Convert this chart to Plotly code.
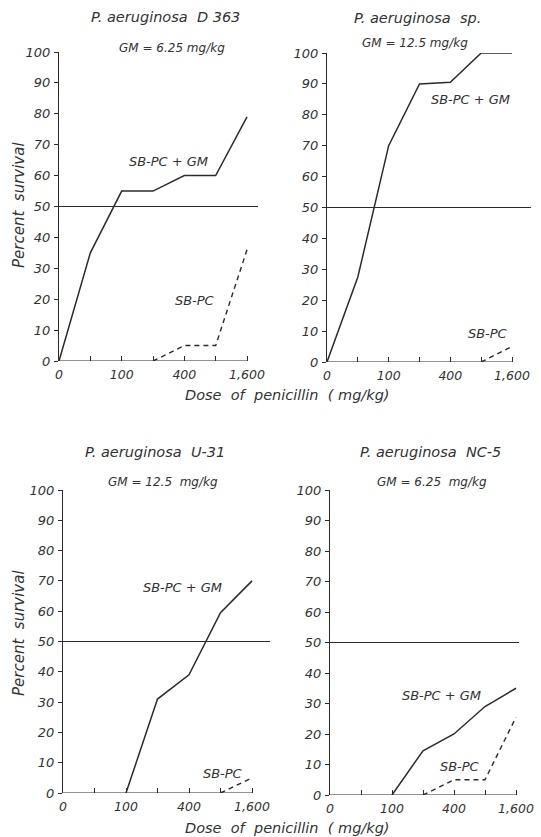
import plotly.graph_objects as go

W, H = 541, 837

# ---- data ----
doses = [0, 50, 100, 200, 400, 800, 1600]
dose_ticktext = ["0", "", "100", "", "400", "", "1,600"]
survival_ticks = [0, 10, 20, 30, 40, 50, 60, 70, 80, 90, 100]

panel_titles = ["P. aeruginosa  D 363", "P. aeruginosa  sp.",
                "P. aeruginosa  U-31", "P. aeruginosa  NC-5"]
gm_labels = ["GM = 6.25 mg/kg", "GM = 12.5 mg/kg",
             "GM = 12.5  mg/kg", "GM = 6.25  mg/kg"]

combo_d363 = [0, 35, 55, 55, 60, 60, 79]
sbpc_d363 = [None, None, None, 0, 5, 5, 36]
combo_sp = [0, 27.5, 70, 90, 90.5, 100, 100]
sbpc_sp = [None, None, None, None, None, 0, 5]
combo_u31 = [None, None, 0, 31, 39, 59.5, 70]
sbpc_u31 = [None, None, None, None, None, 0, 5]
combo_nc5 = [None, None, 0, 14.5, 20, 29, 35]
sbpc_nc5 = [None, None, None, 0, 5, 5, 25.5]

combo = [combo_d363, combo_sp, combo_u31, combo_nc5]
sbpc = [sbpc_d363, sbpc_sp, sbpc_u31, sbpc_nc5]

# ---- layout geometry (pixels) ----
# (x of dose index 0, x of dose index 6, right end of 50% line, y of 0%, y of 100%)
geom = [
    (59, 247, 258, 361, 52),
    (327, 512, 531, 362, 53),
    (63, 252, 270, 793, 490),
    (330, 516, 519, 795, 490),
]
title_pos = [(165, 17), (417, 18), (155, 452), (430, 452)]
gm_pos = [(172, 48), (415, 43), (163, 482), (432, 482)]
combo_lbl = [(3.48, 64.4), (4.64, 85.1), (3.78, 67.7), (3.61, 32.5)]
sbpc_lbl = [(4.34, 19.7), (5.22, 9.1), (5.05, 6.6), (4.19, 9.2)]

LINE = "#2b2b2b"
TXT = "#333333"
FONT = "DejaVu Sans"

fig = go.Figure()
xi = list(range(len(doses)))

annotations = []
shapes = []
layout = {}


def ann(text, x, y, xref="paper", yref="paper", size=12.5, angle=0):
    if xref == "paper":
        x = x / W
        y = 1 - y / H
    return dict(text="<i>" + text + "</i>", xref=xref, yref=yref, x=x, y=y,
                showarrow=False, textangle=angle, xanchor="center",
                yanchor="middle", font=dict(family=FONT, size=size, color=TXT))


for k in range(4):
    x0, x6, xend, y0, y100 = geom[k]
    step = (x6 - x0) / 6.0
    xmax = (xend - x0) / step
    sfx = "" if k == 0 else str(k + 1)
    xa, ya = "x" + sfx, "y" + sfx
    layout["xaxis" + sfx] = dict(
        domain=[x0 / W, xend / W], range=[0, xmax], anchor=ya,
        tickvals=xi, ticktext=dose_ticktext, ticks="inside", ticklen=5,
        tickcolor=LINE, showline=False, showgrid=False, zeroline=False,
        tickfont=dict(family=FONT, size=12.5, color=TXT, style="italic"),
        fixedrange=True, automargin=False, ticklabelstandoff=4,
    )
    layout["yaxis" + sfx] = dict(
        domain=[1 - y0 / H, 1 - y100 / H], range=[0, 100], anchor=xa,
        tickvals=survival_ticks, ticks="outside", ticklen=4, tickcolor=LINE,
        showline=True, linecolor=LINE, linewidth=1.2, showgrid=False,
        zeroline=False, ticklabelstandoff=1, automargin=False,
        tickfont=dict(family=FONT, size=13, color=TXT, style="italic"),
        fixedrange=True,
    )
    # x axis line (only to the last dose)
    shapes.append(dict(type="line", xref=xa, yref=ya, x0=0, x1=6, y0=0, y1=0,
                       line=dict(color=LINE, width=1.2)))
    # 50% reference line
    shapes.append(dict(type="line", xref=xa + " domain", yref=ya, x0=0, x1=1,
                       y0=50, y1=50, line=dict(color=LINE, width=1.1)))

    fig.add_trace(go.Scatter(x=xi, y=combo[k], xaxis=xa, yaxis=ya, mode="lines",
                             line=dict(color=LINE, width=1.5), cliponaxis=False,
                             showlegend=False, connectgaps=False))
    fig.add_trace(go.Scatter(x=xi, y=sbpc[k], xaxis=xa, yaxis=ya, mode="lines",
                             line=dict(color=LINE, width=1.4, dash="5px,4px"),
                             cliponaxis=False, showlegend=False))

    annotations.append(ann(panel_titles[k], *title_pos[k], size=14.5))
    annotations.append(ann(gm_labels[k], *gm_pos[k], size=12))
    annotations.append(ann("SB-PC + GM", combo_lbl[k][0], combo_lbl[k][1],
                           xref=xa, yref=ya, size=13))
    annotations.append(ann("SB-PC", sbpc_lbl[k][0], sbpc_lbl[k][1],
                           xref=xa, yref=ya, size=13))

# axis titles
for (px, py) in [(19, 205), (19, 633)]:
    annotations.append(ann("Percent  survival", px, py, size=15, angle=-90))
for (px, py) in [(287, 395), (287, 828)]:
    annotations.append(ann("Dose  of  penicillin  ( mg/kg)", px, py, size=14.5))

fig.update_layout(
    width=W, height=H, margin=dict(l=0, r=0, t=0, b=0, autoexpand=False),
    paper_bgcolor="white", plot_bgcolor="white", hovermode=False,
    annotations=annotations, shapes=shapes, **layout,
)

# remove the browser's default 8px page margin so the figure fills the window
fig.write_html("out.html",
               config={"displayModeBar": False},
               post_script="document.body.style.margin='0';"
                           "document.documentElement.style.overflow='hidden';")
